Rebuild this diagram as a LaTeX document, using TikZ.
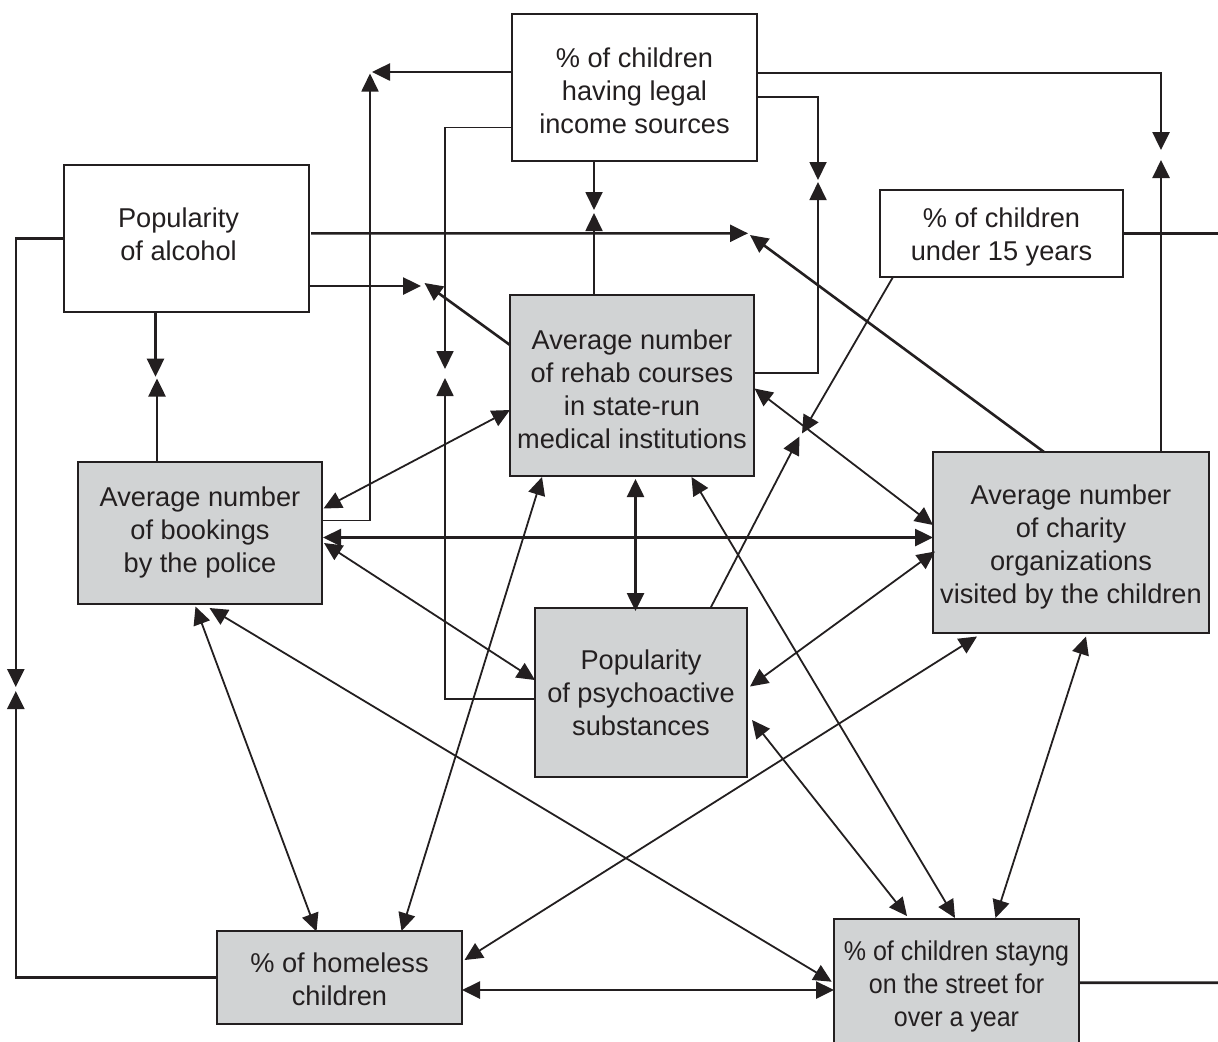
\documentclass[tikz,border=0pt]{standalone}
\usepackage{fontspec}
\usepackage{graphicx}
\setmainfont{Liberation Sans}
\usetikzlibrary{arrows.meta}
\definecolor{ink}{HTML}{231F20}
\definecolor{boxgray}{HTML}{D1D3D4}
\newcommand{\boxtxt}[2]{\raisebox{#1}[0pt][0pt]{\begin{tabular}[t]{@{}c@{}}#2\end{tabular}}}
\begin{document}
\begin{tikzpicture}[x=0.5pt,y=-0.5pt,
  box/.style={draw=ink, line width=1pt, inner sep=0pt, outer sep=0pt,
              font=\fontsize{13.6}{16.5}\selectfont, text=ink},
  wbox/.style={box, fill=white},
  gbox/.style={box, fill=boxgray},
  conn/.style={draw=ink, line width=0.9pt},
  heavy/.style={draw=ink, line width=1.3pt},
  tip/.style={-{Triangle[length=9pt,width=8.5pt]}},
  both/.style={{Triangle[length=9pt,width=8.5pt]}-{Triangle[length=9pt,width=8.5pt]}},
]
\useasboundingbox (0,0) rectangle (1218,1041);
\fill[white] (0,0) rectangle (1218,1041);
\clip (0,0) rectangle (1218,1041);

% boxes
\node[wbox, minimum width=122.5pt, minimum height=73.5pt] (A) at (634.5,87.5)
  {\boxtxt{10.25pt}{\%~of children\\having legal\\income sources}};
\node[wbox, minimum width=122.5pt, minimum height=73.5pt] (B) at (186.5,238.5)
  {\boxtxt{5.75pt}{Popularity\\of alcohol}\kern8pt};
\node[wbox, minimum width=121.5pt, minimum height=43.5pt] (C) at (1001.5,233.5)
  {\boxtxt{3.25pt}{\%~of children\\under 15 years}};
\node[gbox, minimum width=122pt, minimum height=90.5pt] (D) at (632,385.5)
  {\boxtxt{18.25pt}{Average number\\of rehab courses\\in state-run\\medical institutions}};
\node[gbox, minimum width=122pt, minimum height=71pt] (E) at (200,533)
  {\boxtxt{13.5pt}{Average number\\of bookings\\by the police}};
\node[gbox, minimum width=138pt, minimum height=90.5pt] (F) at (1071,542.5)
  {\boxtxt{19.25pt}{Average number\\of charity\\organizations\\visited by the children}};
\node[gbox, minimum width=106pt, minimum height=84.5pt] (G) at (641,692.5)
  {\boxtxt{11.75pt}{Popularity\\of psychoactive\\substances}};
\node[gbox, minimum width=122.5pt, minimum height=46.5pt] (H) at (339.5,977.5)
  {\boxtxt{2.6pt}{\%~of homeless\\children}};
\node[gbox, minimum width=122.5pt, minimum height=65.5pt] (I) at (956.5,984.5)
  {\scalebox{0.92}[1]{\boxtxt{11.9pt}{\%~of children stayng\\on the street for\\over a year}}};

% meeting points of opposing arrows
\coordinate (m1a) at (372,72);
\coordinate (m1b) at (370,73.5);
\coordinate (m2a) at (445,369);
\coordinate (m2b) at (445,378);
\coordinate (m3a) at (594,210);
\coordinate (m3b) at (594,213);
\coordinate (m4a) at (818,180);
\coordinate (m4b) at (818,182);
\coordinate (m5a) at (1161,150);
\coordinate (m5b) at (1161,160);
\coordinate (m6a) at (748,233.3);
\coordinate (m6b) at (750,235);
\coordinate (m7a) at (421,286);
\coordinate (m7b) at (424.5,283);
\coordinate (m8a) at (155.5,376.7);
\coordinate (m8b) at (157,378.5);
\coordinate (m9a) at (15.8,687);
\coordinate (m9b) at (15.8,691);
\coordinate (m10a) at (802,433.5);
\coordinate (m10b) at (799.5,436.5);
\coordinate (r1) at (1218,233.5);
\coordinate (r2) at (1218,982.7);

% one-way connectors meeting head to head
\draw[heavy,tip] ([shift={(0,-15.5)}]A.west) -- (m1a);
\draw[conn,tip] ([shift={(0,-12.5)}]E.east) -| (m1b);
\draw[conn,tip] ([shift={(0,40)}]A.west) -| (m2a);
\draw[conn,tip] ([shift={(0,6.8)}]G.west) -| (m2b);
\draw[conn,tip] ([shift={(-40.5,0)}]A.south) -- (m3a);
\draw[conn,tip] ([shift={(-38,0)}]D.north) -- (m3b);
\draw[conn,tip] ([shift={(0,9.2)}]A.east) -| (m4a);
\draw[conn,tip] ([shift={(0,-12.8)}]D.east) -| (m4b);
\draw[heavy,tip] ([shift={(0,-14.5)}]A.east) -| (m5a);
\draw[heavy,tip] ([shift={(90,0)}]F.north) -- (m5b);
\draw[heavy,tip] ([shift={(2,-5.2)}]B.east) -- (m6a);
\draw[heavy,tip] ([shift={(-27,0)}]F.north) -- (m6b);
\draw[heavy,tip] ([shift={(0,47.5)}]B.east) -- (m7a);
\draw[heavy,tip] ([shift={(0,-40.5)}]D.west) -- (m7b);
\draw[heavy,tip] ([shift={(-31,0)}]B.south) -- (m8a);
\draw[heavy,tip] ([shift={(-43,0)}]E.north) -- (m8b);
\draw[heavy,tip] (B.west) -| (m9a);
\draw[heavy,tip] (H.west) -| (m9b);
\draw[conn,tip] ([shift={(-108.5,0)}]C.south) -- (m10a);
\draw[conn,tip] ([shift={(69.5,0)}]G.north) -- (m10b);

% lines leaving the picture
\draw[heavy] (C.east) -- (r1);
\draw[heavy] ([shift={(0,-1.8)}]I.east) -- (r2);

% two-way connectors
\draw[conn,both] ([shift={(0,24.5)}]D.west) -- ([shift={(1.5,-24.5)}]E.east);
\draw[heavy,both] ([shift={(1,4.5)}]E.east) -- ([shift={(0,-5)}]F.west);
\draw[conn,both] ([shift={(2,10)}]E.east) -- ([shift={(0,-12.5)}]G.west);
\draw[heavy,both] ([shift={(3.5,3)}]D.south) -- ([shift={(-5.5,3)}]G.north);
\draw[conn,both] ([shift={(0.5,3)}]D.east) -- ([shift={(0,-17.5)}]F.west);
\draw[conn,both] ([shift={(2,9)}]F.west) -- ([shift={(3,-6)}]G.east);
\draw[conn,both] ([shift={(-90,1)}]D.south) -- ([shift={(62,0)}]H.north);
\draw[conn,both] ([shift={(59.5,1)}]D.south) -- ([shift={(-1.5,-1)}]I.north);
\draw[conn,both] ([shift={(-4.5,2.5)}]E.south) -- ([shift={(-23,0.5)}]H.north);
\draw[conn,both] ([shift={(9.5,4)}]E.south) -- ([shift={(-2.3,-2.8)}]I.west);
\draw[conn,both] ([shift={(-94,3.5)}]F.south) -- ([shift={(2.5,-17.5)}]H.east);
\draw[conn,both] ([shift={(15,3.5)}]F.south) -- ([shift={(39,-1)}]I.north);
\draw[conn,both] ([shift={(5,27.5)}]G.east) -- ([shift={(-49.5,-3)}]I.north);
\draw[heavy,both] ([shift={(0,12.5)}]H.east) -- ([shift={(0,5.5)}]I.west);
\end{tikzpicture}
\end{document}
